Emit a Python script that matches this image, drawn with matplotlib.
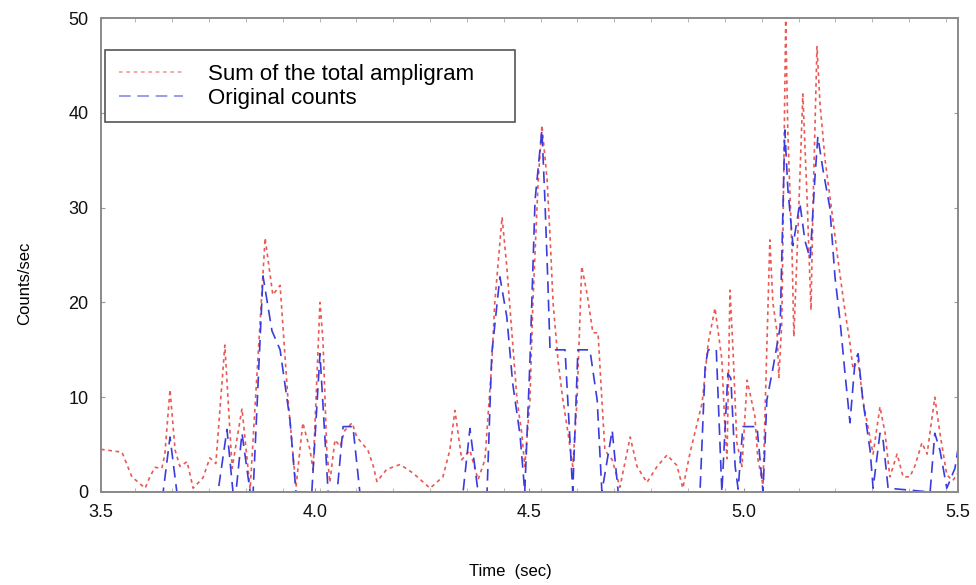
import numpy as np
import matplotlib
matplotlib.use("Agg")
import matplotlib.pyplot as plt
from matplotlib.ticker import FixedLocator

plt.rcParams['font.family'] = ['Liberation Sans', 'DejaVu Sans']

# Sum of the total ampligram (red, dotted)
t_sum = [3.500, 3.533, 3.549, 3.572, 3.603, 3.614, 3.626, 3.642, 3.649, 3.661,
         3.673, 3.684, 3.701, 3.715, 3.738, 3.754, 3.768, 3.789, 3.806, 3.829,
         3.848, 3.883, 3.901, 3.918, 3.936, 3.955, 3.971, 3.988, 3.995, 4.011,
         4.018, 4.027, 4.034, 4.046, 4.058, 4.069, 4.086, 4.097, 4.123, 4.135,
         4.144, 4.167, 4.198, 4.228, 4.268, 4.298, 4.314, 4.326, 4.342, 4.361,
         4.380, 4.396, 4.412, 4.419, 4.436, 4.447, 4.459, 4.471, 4.482, 4.489,
         4.501, 4.508, 4.520, 4.529, 4.541, 4.548, 4.555, 4.567, 4.578, 4.590,
         4.601, 4.611, 4.622, 4.634, 4.648, 4.660, 4.669, 4.676, 4.693, 4.711,
         4.735, 4.751, 4.774, 4.798, 4.821, 4.844, 4.858, 4.875, 4.903, 4.917,
         4.933, 4.949, 4.956, 4.961, 4.968, 4.975, 4.984, 4.996, 5.008, 5.026,
         5.033, 5.045, 5.061, 5.068, 5.078, 5.082, 5.089, 5.098, 5.103, 5.113,
         5.117, 5.127, 5.138, 5.148, 5.157, 5.162, 5.171, 5.178, 5.190, 5.206,
         5.220, 5.236, 5.248, 5.255, 5.267, 5.278, 5.290, 5.302, 5.318, 5.330,
         5.341, 5.358, 5.372, 5.388, 5.400, 5.416, 5.428, 5.446, 5.458, 5.474,
         5.488, 5.500]
v_sum = [4.5, 4.3, 4.2, 1.6, 0.4, 1.6, 2.6, 2.5, 4.0, 10.8,
         4.4, 2.7, 3.2, 0.4, 1.5, 3.6, 3.0, 15.5, 2.5, 8.8,
         0.3, 26.8, 20.8, 21.8, 10.0, 0.5, 7.3, 4.4, 2.3, 20.0,
         16.0, 4.4, 1.0, 5.5, 4.8, 6.5, 7.3, 5.8, 4.4, 2.8,
         1.1, 2.4, 2.9, 2.0, 0.4, 1.6, 4.4, 8.6, 3.4, 4.4,
         1.3, 3.4, 13.6, 20.0, 29.0, 23.8, 16.8, 9.7, 6.2, 2.7,
         9.7, 20.0, 32.6, 38.7, 33.0, 27.0, 20.0, 13.7, 9.7, 6.2,
         2.7, 9.7, 23.8, 21.0, 16.8, 16.8, 9.7, 4.4, 3.4, 0.5,
         5.8, 2.7, 1.0, 2.7, 3.9, 2.8, 0.4, 4.2, 9.4, 15.7,
         19.4, 14.0, 6.9, 3.5, 21.3, 15.0, 5.2, 2.7, 11.8, 8.0,
         3.5, 0.7, 26.6, 20.0, 16.8, 12.1, 18.0, 49.8, 37.9, 25.0,
         16.4, 28.0, 42.0, 30.8, 19.2, 30.8, 47.0, 41.0, 35.0, 29.5,
         24.5, 19.2, 15.7, 13.0, 13.9, 9.7, 6.9, 4.0, 9.0, 6.2,
         1.6, 4.0, 1.6, 1.6, 2.8, 5.2, 4.0, 10.0, 6.2, 1.8,
         1.2, 2.0]

# Original counts (blue, dashed)
t_orig = [3.500, 3.645, 3.661, 3.677, 3.773, 3.794, 3.808, 3.815, 3.829, 3.848,
          3.855, 3.878, 3.899, 3.918, 3.941, 3.955, 3.992, 4.011, 4.030, 4.051,
          4.065, 4.088, 4.104, 4.345, 4.361, 4.380, 4.401, 4.412, 4.431, 4.447,
          4.461, 4.478, 4.489, 4.501, 4.513, 4.529, 4.536, 4.543, 4.548, 4.583,
          4.601, 4.613, 4.641, 4.658, 4.669, 4.693, 4.707, 4.898, 4.910, 4.917,
          4.936, 4.949, 4.963, 4.970, 4.980, 4.987, 4.998, 5.031, 5.045, 5.054,
          5.068, 5.085, 5.096, 5.103, 5.115, 5.131, 5.143, 5.155, 5.166, 5.173,
          5.185, 5.201, 5.213, 5.225, 5.236, 5.248, 5.260, 5.267, 5.278, 5.295,
          5.302, 5.318, 5.325, 5.337, 5.435, 5.446, 5.458, 5.474, 5.493, 5.500]
v_orig = [0, 0, 5.8, 0, 0, 6.6, 0, 0, 6.2, 0,
          0, 22.8, 17.0, 15.0, 7.6, 0, 0, 14.6, 0, 0,
          6.9, 6.9, 0, 0, 6.7, 0, 0, 14.6, 22.7, 18.5,
          11.4, 6.0, 0, 13.7, 30.8, 38.2, 30.8, 22.0, 15.0, 15.0,
          0, 15.0, 15.0, 9.7, 0, 6.5, 0, 0, 13.2, 15.0,
          15.0, 0, 12.5, 12.0, 2.7, 0.3, 6.9, 6.9, 0, 9.7,
          13.0, 17.4, 38.2, 32.0, 26.0, 30.5, 26.5, 24.6, 33.0, 37.5,
          34.0, 30.0, 22.7, 18.0, 12.7, 7.3, 13.9, 14.6, 9.7, 4.4,
          0.4, 6.2, 5.6, 0.4, 0, 6.2, 4.4, 0.4, 2.5, 4.5]

x_ticks = [3.5, 4.0, 4.5, 5.0, 5.5]
y_ticks = [0, 10, 20, 30, 40, 50]

fig = plt.figure(figsize=(9.76, 5.85), dpi=100)
ax = fig.add_axes([0.1035, 0.159, 0.878, 0.81])

ax.plot(t_sum, v_sum, color='#e85a55', lw=1.2, dashes=(2.2, 2.2),
        label='Sum of the total ampligram')
ax.plot(t_orig, v_orig, color='#3c3cdc', lw=1.2, dashes=(7, 4),
        label='Original counts')

ax.set_xlim(3.5, 5.5)
ax.set_ylim(0, 50)
ax.set_xticks(x_ticks)
ax.set_xticklabels(['%.1f' % x for x in x_ticks])
ax.set_yticks(y_ticks)
ax.xaxis.set_minor_locator(FixedLocator(np.arange(3.58, 5.5, 0.086)))
ax.tick_params(axis='both', which='major', labelsize=13, length=3,
               direction='in', color='#999999', labelcolor='#111111')
ax.tick_params(axis='x', which='major', pad=9)
ax.tick_params(axis='y', which='major', pad=9, right=True)
ax.tick_params(axis='x', which='minor', direction='in', length=3,
               top=True, bottom=True, color='#aaaaaa')

for s in ax.spines.values():
    s.set_color('#8a8a8a')
    s.set_linewidth(1.4)

ax.set_xlabel('Time  (sec)', fontsize=12)
ax.xaxis.set_label_coords(0.478, -0.152)
ax.set_ylabel('Counts/sec', fontsize=12)
ax.yaxis.set_label_coords(-0.08, 0.441)

leg = ax.legend(loc='upper left', bbox_to_anchor=(0.005, 0.932, 0.478, 0),
                mode='expand', borderaxespad=0,
                fontsize=16, handlelength=2.9, handletextpad=1.1,
                borderpad=0.6, labelspacing=0.15, fancybox=False, framealpha=1)
leg.get_frame().set_edgecolor('#555555')
leg.get_frame().set_linewidth(1.2)
for h in leg.get_lines():
    h.set_alpha(0.6)

fig.savefig('out.png', dpi=100)
